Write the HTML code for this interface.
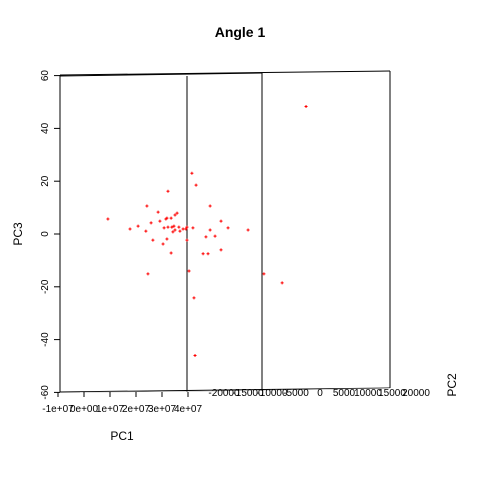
<!DOCTYPE html>
<html><head><meta charset="utf-8"><style>body{margin:0;background:#fff}svg text{font-family:"Liberation Sans",sans-serif}</style></head>
<body>
<svg id="chart" width="480" height="480" viewBox="0 0 480 480">
<rect width="480" height="480" fill="#fff"/>
<text x="240" y="37" text-anchor="middle" font-size="14" font-weight="bold">Angle 1</text>
<g stroke="#000" stroke-width="1" fill="none">
<line x1="60" y1="75" x2="390" y2="71"/>
<line x1="60" y1="76" x2="262" y2="73"/>
<line x1="60" y1="75" x2="60" y2="392"/>
<line x1="390" y1="71" x2="390" y2="388"/>
<line x1="187" y1="76" x2="187" y2="392"/>
<line x1="262" y1="73" x2="262" y2="390"/>
<line x1="60" y1="392" x2="390" y2="388"/>
<polygon points="80,392 200,391 330,389 390,388 390,388.5 200,391.5 80,392.5" fill="#bbb" stroke="none"/>
</g>
<g id="yaxis"></g>
<g id="xaxis"></g>
<g id="points"></g>
<text transform="translate(22,234) rotate(-90)" text-anchor="middle" font-size="12">PC3</text>
<text x="122" y="440" text-anchor="middle" font-size="12">PC1</text>
<text transform="translate(456,385) rotate(-90)" text-anchor="middle" font-size="12">PC2</text>
</svg>
<script>
const yTicks=[-60,-40,-20,0,20,40,60];
const xTicks=["-1e+07","0e+00","1e+07","2e+07","3e+07","4e+07"];
const xTickVals=[-1,0,1,2,3,4];
const zTicks=["-20000","-15000","-10000","-5000","0","5000","10000","15000","20000"];
const zTickVals=[-20000,-15000,-10000,-5000,0,5000,10000,15000,20000];
const pc1=[0.92,4.15,4.31,3.23,2.42,4.85,2.85,3.58,3.5,3.19,3.15,3.35,2.58,2.92,5.27,2.08,1.77,2.38,3.08,3.23,3.38,3.46,3.65,3.5,3.42,3.69,3.81,3.92,3.96,4.19,4.85,5.54,6.31,2.65,3.19,3.96,4.69,5.04,3.04,5.27,3.35,4.58,4.77,2.46,4.04,6.92,7.62,8.54,4.23,4.27];
const pc3=[5.7,23.0,18.5,16.2,10.6,10.6,8.3,7.9,7.2,6.0,5.7,6.0,4.2,4.9,4.9,3.0,1.9,1.1,2.3,2.6,2.6,3.0,2.6,1.5,0.8,1.1,1.9,1.9,2.6,2.3,1.5,2.3,1.5,-2.3,-1.9,-2.3,-1.1,-0.8,-3.8,-6.0,-7.2,-7.5,-7.5,-15.1,-14.0,-15.1,-18.5,48.3,-24.2,-46.0];
const X=v=>84+v*26, Y=v=>234-v*2.64;
const NS="http://www.w3.org/2000/svg";
function mk(t,a,p){const e=document.createElementNS(NS,t);for(const k in a)e.setAttribute(k,a[k]);p.appendChild(e);return e;}
const ya=document.getElementById('yaxis');
yTicks.forEach(v=>{const y=Y(v);
const l=mk('line',{x1:54,y1:y,x2:60,y2:y,stroke:'#000'},ya);


const t=mk('text',{transform:`translate(48,${y}) rotate(-90)`,'text-anchor':'middle','font-size':'10'},ya);


t.textContent=v;});
const xa=document.getElementById('xaxis');
xTicks.forEach((s,i)=>{const x=X(xTickVals[i]);
const l=mk('line',{x1:x,y1:392,x2:x,y2:397,stroke:'#000'},xa);


const t=mk('text',{x:x,y:412,'text-anchor':'middle','font-size':'10'},xa);


t.textContent=s;});
zTickVals.forEach((v,i)=>{const x=320+v*0.0048;
const t=mk('text',{x:x,y:396,'text-anchor':'middle','font-size':'10'},xa);


t.textContent=zTicks[i];});
const pg=document.getElementById('points');
pc1.forEach((v,i)=>{const x=X(v),y=Y(pc3[i]);
const p=mk('path',{d:`M${x-1.5},${y}H${x+1.5}M${x},${y-1.5}V${y+1.5}`,stroke:'red','stroke-width':'1'},pg);

});
</script>
</body></html>
